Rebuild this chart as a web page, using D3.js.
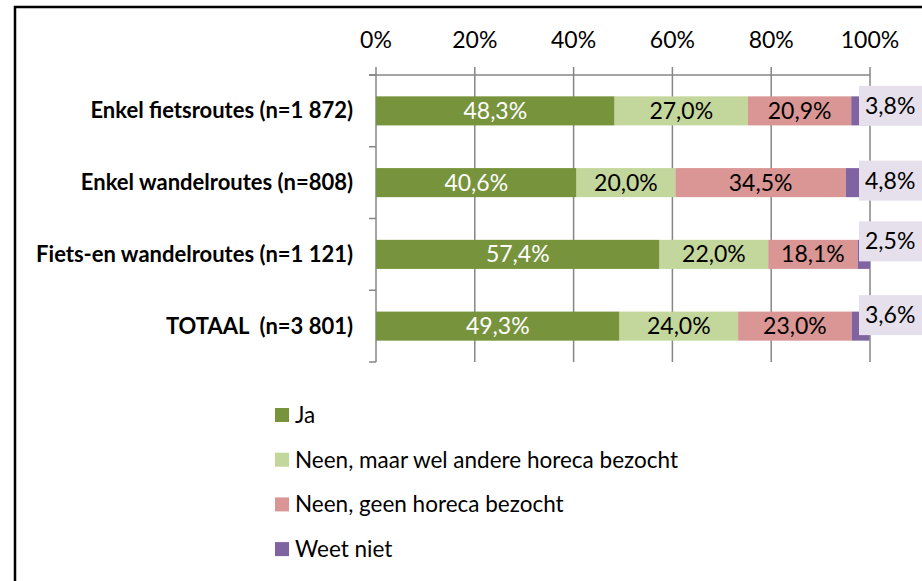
<!DOCTYPE html>
<html>
<head>
<meta charset="utf-8">
<script src="https://cdn.jsdelivr.net/npm/d3@7"></script>
<style>
  body { margin: 0; background: #fff; }
  svg text { font-family: Lato, "Open Sans", sans-serif; white-space: pre; }
</style>
</head>
<body>
<div id="chart"></div>
<script>
// categories and series
const categories = ["Enkel fietsroutes (n=1 872)", "Enkel wandelroutes (n=808)", "Fiets-en wandelroutes (n=1 121)", "TOTAAL  (n=3 801)"];
const seriesNames = ["Ja", "Neen, maar wel andere horeca bezocht", "Neen, geen horeca bezocht", "Weet niet"];
const ja = [48.3, 40.6, 57.4, 49.3];
const neenAndere = [27.0, 20.0, 22.0, 24.0];
const neenGeen = [20.9, 34.5, 18.1, 23.0];
const weetNiet = [3.8, 4.8, 2.5, 3.6];
const tickValues = [0, 20, 40, 60, 80, 100];

const colors = ["#77933C", "#C3D69B", "#D99694", "#8064A2"];
const labelColors = ["#fff", "#000", "#000", "#000"];
// manual nudge of the "weet niet" callouts (px, relative to bar centre)
const calloutNudge = [-5, -2, -13, -11];

const width = 922, height = 581;
const margin = { top: 75, left: 376, right: 52, bottom: 219 };

const rows = categories.map((c, i) => ({
  cat: c, s0: ja[i], s1: neenAndere[i], s2: neenGeen[i], s3: weetNiet[i]
}));
const keys = ["s0", "s1", "s2", "s3"];
const stacked = d3.stack().keys(keys)(rows);

const svg = d3.select("#chart").append("svg")
  .attr("width", width).attr("height", height);

// outer frame
svg.append("rect")
  .attr("x", 15).attr("y", 7).attr("width", 1000).attr("height", 1000)
  .attr("fill", "none").attr("stroke", "#000").attr("stroke-width", 2.5);

const x = d3.scaleLinear().domain([0, 100]).range([margin.left, width - margin.right]);
const y = d3.scaleBand().domain(categories)
  .range([margin.top, height - margin.bottom])
  .paddingInner(0.595).paddingOuter(0.2975);

const yTop = margin.top, yBot = height - margin.bottom;

// gridlines + top ticks
svg.append("g").selectAll("line").data(tickValues).join("line")
  .attr("x1", d => x(d)).attr("x2", d => x(d))
  .attr("y1", yTop - 8).attr("y2", yBot)
  .attr("stroke", "#868686").attr("stroke-width", 1.5);

// top axis line
svg.append("line")
  .attr("x1", x(0) - 7).attr("x2", x(100))
  .attr("y1", yTop).attr("y2", yTop)
  .attr("stroke", "#868686").attr("stroke-width", 1.5);

// category ticks at band boundaries
const bounds = categories.map(c => y(c) - y.step() * y.paddingInner() / 2);
bounds[0] = yTop;
bounds.push(yBot);
svg.append("g").selectAll("line").data(bounds).join("line")
  .attr("x1", x(0) - 7).attr("x2", x(0))
  .attr("y1", d => d).attr("y2", d => d)
  .attr("stroke", "#868686").attr("stroke-width", 1.5);

// tick labels
svg.append("g").selectAll("text").data(tickValues).join("text")
  .attr("x", d => x(d)).attr("y", 48)
  .attr("text-anchor", "middle")
  .attr("font-size", 23).attr("fill", "#000")
  .text(d => d + "%");

// category labels
svg.append("g").selectAll("text").data(categories).join("text")
  .attr("x", 353).attr("y", d => y(d) + y.bandwidth() / 2 + 7.5)
  .attr("text-anchor", "end")
  .attr("font-size", 22).attr("font-weight", "bold").attr("fill", "#000")
  .text(d => d);

// bars
const layers = svg.append("g").selectAll("g").data(stacked).join("g")
  .attr("fill", (d, i) => colors[i]);
layers.selectAll("rect").data(d => d).join("rect")
  .attr("x", d => x(d[0]))
  .attr("width", d => x(d[1]) - x(d[0]))
  .attr("y", d => y(d.data.cat))
  .attr("height", y.bandwidth());

const fmt = v => v.toFixed(1).replace(".", ",") + "%";

// inside labels for first three series
stacked.slice(0, 3).forEach((layer, li) => {
  svg.append("g").selectAll("text").data(layer).join("text")
    .attr("x", d => (x(d[0]) + x(d[1])) / 2)
    .attr("y", d => y(d.data.cat) + y.bandwidth() / 2 + 8)
    .attr("text-anchor", "middle")
    .attr("font-size", 23).attr("fill", labelColors[li])
    .text(d => fmt(d[1] - d[0]));
});

// callouts for "weet niet"
const callouts = svg.append("g").selectAll("g").data(stacked[3]).join("g")
  .attr("transform", (d, i) => `translate(859,${y(d.data.cat) + y.bandwidth() / 2 + calloutNudge[i]})`);
callouts.append("rect")
  .attr("x", 0).attr("y", -20).attr("width", 70).attr("height", 40)
  .attr("fill", "#E6E0EC");
callouts.append("text")
  .attr("x", 6).attr("y", 8)
  .attr("font-size", 23).attr("fill", "#000")
  .text(d => fmt(d[1] - d[0]));

// legend
const legend = svg.append("g").selectAll("g").data(seriesNames).join("g")
  .attr("transform", (d, i) => `translate(275,${415 + i * 44.7})`);
legend.append("rect")
  .attr("x", 0).attr("y", -7).attr("width", 14).attr("height", 14)
  .attr("fill", (d, i) => colors[i]);
legend.append("text")
  .attr("x", 20).attr("y", 8)
  .attr("font-size", 22.5).attr("fill", "#000")
  .text(d => d);
</script>
</body>
</html>
